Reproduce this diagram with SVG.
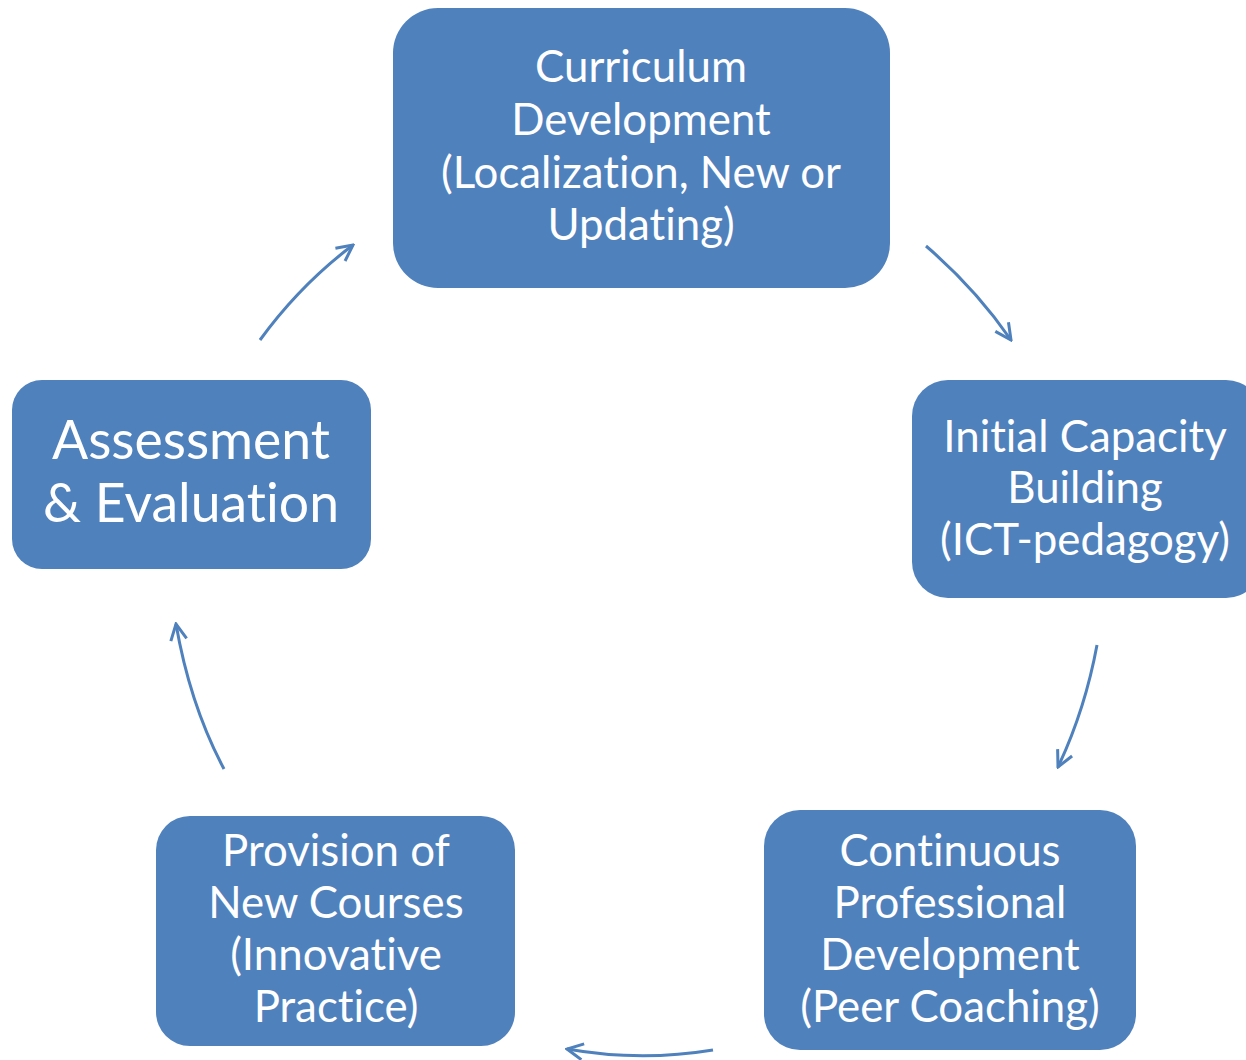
<svg xmlns="http://www.w3.org/2000/svg" width="1246" height="1060" viewBox="0 0 1246 1060">
<style>
.box{fill:#4F81BD;stroke:none}
.t{font-family:"Lato","Open Sans","Liberation Sans",sans-serif;fill:#fff;text-anchor:middle;font-size:43.8px;font-variant-ligatures:none}
.big{font-size:53.5px}
.c{fill:none;stroke:#4F81BD;stroke-width:3}
</style>
<defs>
<marker id="ah" viewBox="0 0 20 20" refX="18" refY="10" markerWidth="20" markerHeight="20" markerUnits="userSpaceOnUse" orient="auto">
<path d="M2,2 L18,10 L2,18" fill="none" stroke="#4F81BD" stroke-width="3"/>
</marker>
</defs>
<rect width="1246" height="1060" fill="#fff"/>
<g id="connectors">
<path class="c" d="M260,340 Q300,285 353,245" marker-end="url(#ah)"/>
<path class="c" d="M926,246 Q975,288 1011,340" marker-end="url(#ah)"/>
<path class="c" d="M1097,645 Q1085,710 1058,767" marker-end="url(#ah)"/>
<path class="c" d="M713,1050 Q640,1062 567,1049" marker-end="url(#ah)"/>
<path class="c" d="M224,769 Q190,705 176,624" marker-end="url(#ah)"/>
</g>
<g id="curriculum">
<rect class="box" x="393" y="8" width="497" height="280" rx="45"/>
<text class="t" x="641" y="82">Curriculum</text>
<text class="t" x="641" y="135">Development</text>
<text class="t" x="641" y="188">(Localization, New or</text>
<text class="t" x="641" y="240">Updating)</text>
</g>
<g id="initial">
<rect class="box" x="912" y="380" width="350" height="218" rx="36"/>
<text class="t" x="1085" y="452">Initial Capacity</text>
<text class="t" x="1085" y="503">Building</text>
<text class="t" x="1085" y="555">(ICT-pedagogy)</text>
</g>
<g id="continuous">
<rect class="box" x="764" y="810" width="372" height="240" rx="36"/>
<text class="t" x="950" y="866">Continuous</text>
<text class="t" x="950" y="918">Professional</text>
<text class="t" x="950" y="970">Development</text>
<text class="t" x="950" y="1022">(Peer Coaching)</text>
</g>
<g id="provision">
<rect class="box" x="156" y="816" width="359" height="230" rx="34"/>
<text class="t" x="336" y="866">Provision of</text>
<text class="t" x="336" y="918">New Courses</text>
<text class="t" x="336" y="970">(Innovative</text>
<text class="t" x="336" y="1022">Practice)</text>
</g>
<g id="assessment">
<rect class="box" x="12" y="380" width="359" height="189" rx="30"/>
<text class="t big" x="191" y="459">Assessment</text>
<text class="t big" x="191" y="522">&amp; Evaluation</text>
</g>
</svg>
